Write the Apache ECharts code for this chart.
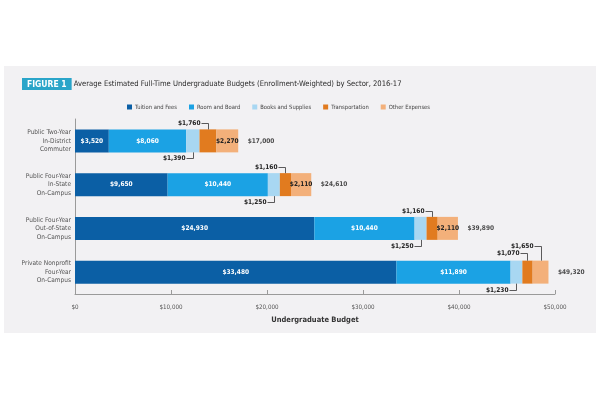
<!DOCTYPE html>
<html>
<head>
<meta charset="utf-8">
<script src="https://cdn.jsdelivr.net/npm/echarts@6/dist/echarts.min.js"></script>
<style>
  html, body { margin: 0; padding: 0; background: #fff; }
  #chart { width: 600px; height: 400px; }
</style>
</head>
<body>
<div id="chart"></div>
<script>
/************************    数据     ****************************/
var sectors = ['Public Two-Year\nIn-District\nCommuter', 'Public Four-Year\nIn-State\nOn-Campus',
  'Public Four-Year\nOut-of-State\nOn-Campus', 'Private Nonprofit\nFour-Year\nOn-Campus'];
var tuition = [3520, 9650, 24930, 33480];
var room = [8060, 10440, 10440, 11890];
var books = [1390, 1250, 1250, 1230];
var transport = [1760, 1160, 1160, 1070];
var other = [2270, 2110, 2110, 1650];
var totals = [17000, 24610, 39890, 49320];
var xTicks = [0, 10000, 20000, 30000, 40000, 50000];

var seriesNames = ['Tuition and Fees', 'Room and Board', 'Books and Supplies', 'Transportation', 'Other Expenses'];
var colors = ['#0b5fa5', '#1ba2e4', '#a8d7f2', '#e17b1f', '#f3b07a'];

var FONT = "'Liberation Sans Narrow', 'DejaVu Sans Condensed', Roboto, sans-serif";

function money(v) {
    return '$' + v.toLocaleString('en-US');
}

/*  每段起点，用于标注引线  */
var groups = [tuition, room, books, transport, other];
function startOf(g, i) {
    var s = 0;
    for (var k = 0; k < g; k++) s += groups[k][i];
    return s;
}

/*  引线标注: [类别, 起点, 数值, 方向(1上 -1下), 高度]  */
var callouts = [];
books.forEach(function (v, i) { callouts.push([i, startOf(2, i), v, -1, 6]); });
transport.forEach(function (v, i) { callouts.push([i, startOf(3, i), v, 1, i == 3 ? 8 : 6]); });
callouts.push([3, startOf(4, 3), other[3], 1, 15]);

var BAR = 23;

function stackSeries(idx, data, labelColor, showInside) {
    return {
        name: seriesNames[idx],
        type: 'bar',
        stack: 'total',
        barWidth: BAR,
        itemStyle: { color: colors[idx] },
        label: {
            show: showInside,
            position: 'inside',
            color: labelColor,
            fontFamily: FONT,
            fontWeight: 'bold',
            fontSize: 6.5,
            formatter: function (p) { return money(p.value); }
        },
        data: data.map(function (v, i) {
            if (idx == 4 && i == 3) return { value: v, label: { show: false } };
            return v;
        })
    };
}

var chart = echarts.init(document.getElementById('chart'));
chart.setOption({
    backgroundColor: '#fff',
    animation: false,
    graphic: [{
        type: 'rect',
        z: -10,
        shape: { x: 4, y: 66, width: 592, height: 267 },
        style: { fill: '#f2f1f3' }
    }],
    title: {
        left: 17,
        top: 73,
        text: '{fig|FIGURE 1} Average Estimated Full-Time Undergraduate Budgets (Enrollment-Weighted) by Sector, 2016-17',
        textStyle: {
            fontFamily: FONT,
            fontSize: 7.6,
            fontWeight: 'normal',
            color: '#2b2b2b',
            rich: {
                fig: {
                    backgroundColor: '#2aa5c9',
                    color: '#fff',
                    fontWeight: 'bold',
                    fontFamily: FONT,
                    fontSize: 8.5,
                    padding: [2, 5, 1, 5]
                }
            }
        }
    },
    legend: {
        data: seriesNames,
        left: 122,
        top: 99,
        icon: 'rect',
        itemWidth: 5,
        itemHeight: 5,
        itemGap: 12,
        textStyle: { fontFamily: FONT, fontSize: 5.8, color: '#444', padding: [0, 0, 0, -2] }
    },
    grid: { left: 75, right: 45, top: 119, bottom: 106 },
    xAxis: {
        type: 'value',
        min: 0,
        max: 50000,
        interval: 10000,
        name: 'Undergraduate Budget',
        nameLocation: 'middle',
        nameGap: 22,
        nameTextStyle: { fontFamily: FONT, fontSize: 7.5, fontWeight: 'bold', color: '#333' },
        axisLine: { show: true, lineStyle: { color: '#9a9a9a', width: 1 } },
        axisTick: { show: true, inside: true, length: 4, lineStyle: { color: '#9a9a9a' } },
        splitLine: { show: false },
        axisLabel: {
            fontFamily: FONT,
            fontSize: 6.2,
            color: '#555',
            margin: 10,
            customValues: xTicks,
            formatter: function (v) { return money(v); }
        }
    },
    yAxis: {
        type: 'category',
        inverse: true,
        data: sectors,
        axisLine: { show: true, lineStyle: { color: '#9a9a9a' } },
        axisTick: { show: false },
        axisLabel: {
            fontFamily: FONT,
            fontSize: 6.5,
            lineHeight: 8.5,
            color: '#555',
            margin: 4,
            align: 'right'
        }
    },
    series: [
        stackSeries(0, tuition, '#fff', true),
        stackSeries(1, room, '#fff', true),
        stackSeries(2, books, '#222', false),
        stackSeries(3, transport, '#222', false),
        stackSeries(4, other, '#222', true),
        {
            /*  总计  */
            name: 'Total',
            type: 'scatter',
            symbolSize: 1,
            itemStyle: { color: 'rgba(0,0,0,0)' },
            label: {
                show: true,
                position: 'right',
                distance: 9,
                color: '#222',
                fontFamily: FONT,
                fontWeight: 'bold',
                fontSize: 6.5,
                formatter: function (p) { return money(p.value[0]); }
            },
            data: totals.map(function (v, i) { return [v, i]; })
        },
        {
            /*  引线标注  */
            name: 'Callouts',
            type: 'custom',
            silent: true,
            clip: false,
            z: 5,
            renderItem: function (params, api) {
                var start = api.value(1), val = api.value(2), dir = api.value(3), rise = api.value(4);
                var p = api.coord([start + val / 2, api.value(0)]);
                var cx = Math.round(p[0]) + 0.5;
                var edge = dir > 0 ? p[1] - BAR / 2 : p[1] + BAR / 2;
                var ly = Math.round(edge - dir * rise) + 0.5;
                return {
                    type: 'group',
                    children: [{
                        type: 'polyline',
                        shape: { points: [[cx, edge], [cx, ly], [cx - 7, ly]] },
                        style: { stroke: '#333', lineWidth: 0.8, fill: null }
                    }, {
                        type: 'text',
                        style: {
                            text: money(val),
                            x: cx - 8,
                            y: ly,
                            align: 'right',
                            verticalAlign: 'middle',
                            fill: '#222',
                            font: 'bold 6.5px ' + FONT
                        }
                    }]
                };
            },
            data: callouts
        }
    ]
});
</script>
</body>
</html>
